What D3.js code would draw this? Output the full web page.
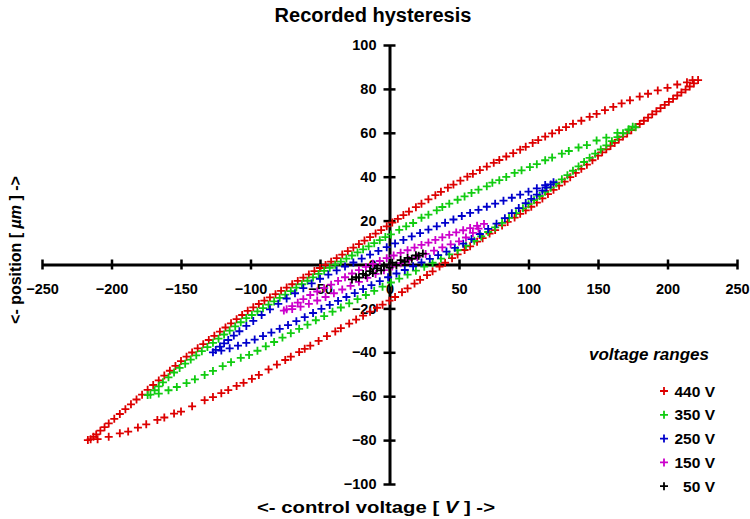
<!DOCTYPE html>
<html lang="en">
<head>
<meta charset="UTF-8">
<title>Recorded hysteresis</title>
<style>
  body { margin: 0; background: #fff; }
  svg text { font-family: "Liberation Sans", Arial, sans-serif; font-weight: bold; fill: #000; }
</style>
</head>
<body>
<div id="chart"></div>
<script src="https://d3js.org/d3.v7.min.js"></script>
<script>
// tick values
const xTicks = [-250, -200, -150, -100, -50, 0, 50, 100, 150, 200, 250];
const yTicks = [-100, -80, -60, -40, -20, 0, 20, 40, 60, 80, 100];

// series names and colours
const seriesNames = ["440 V", "350 V", "250 V", "150 V", "50 V"];
const seriesColors = ["#dd0000", "#11cc11", "#0000cc", "#cc00cc", "#000000"];

// recorded points [control voltage V, position um]
const loop440 = [
  [222,84],[218,84],[214,83],[207,82],[200,80.5],[193,79.3],[186,77.8],[180,76.5],[173,74.8],[167,73.4],
  [161,71.8],[155,70.3],[149,68.6],[144,67.3],[138,65.5],[132,64.1],[127,62.6],[122,61.2],[117,59.7],[112,58.3],
  [107,56.7],[103,55.4],[98,53.6],[94,52.3],[89,50.7],[84,49.2],[79,47.6],[75,46.3],[70,44.6],[65,43],
  [60,41.3],[56,40],[51,38.2],[46,36.4],[42,35],[37,33.1],[33,31.6],[28,29.7],[23,27.7],[19,26.1],
  [14,24.1],[10,22.5],[6,20.8],[2,19.1],[-2,17.4],[-6,15.7],[-10,14.1],[-14,12.5],[-18,10.9],[-22,9.3],
  [-26,7.7],[-30,6.1],[-34,4.5],[-38,2.9],[-42,1.3],[-46,-0.2],[-50,-1.6],[-54,-3],[-58,-4.5],[-62,-6],
  [-66,-7.5],[-70,-9],[-74,-10.5],[-78,-12],[-82,-13.5],[-86,-15],[-90,-16.5],[-94,-18],[-98,-19.5],[-102,-21.1],
  [-106,-23],[-110,-24.9],[-114,-26.8],[-118,-28.7],[-122,-30.6],[-126,-32.5],[-130,-34.4],[-134,-36.3],[-138,-38.2],[-142,-40.1],
  [-146,-42],[-150,-44],[-154,-46.2],[-158,-48.4],[-162,-50.6],[-166,-52.8],[-170,-54.9],[-174,-57.1],[-178,-59.3],[-182,-61.5],
  [-186,-63.7],[-190,-65.9],[-194,-68.1],[-198,-70.3],[-202,-72.4],[-205,-74.1],[-208,-75.7],[-211,-77.4],[-213,-78.5],[-215,-79.6],
  [-217,-80],
  [-210,-79.6],[-202,-78.5],[-194,-76.9],[-188,-76.1],[-181,-74.3],[-175,-72.8],[-167,-70.8],[-162,-69.7],[-155,-67.9],[-150,-67],
  [-142,-64.6],[-133,-61.8],[-127,-60.4],[-121,-58.6],[-116,-57.2],[-110,-55.3],[-105,-53.9],[-99,-52.1],[-94,-50.3],[-87,-47.8],
  [-81,-45.6],[-75,-43.5],[-71,-42],[-65,-39.9],[-61,-38.4],[-57,-37],[-51,-34.8],[-45,-32.6],[-39,-30.5],[-35,-29],
  [-29,-26.9],[-24,-25.1],[-19,-23.3],[-14,-21.5],[-9,-19.7],[-5,-18.3],[0,-16.5],[4,-14.8],[9,-12.6],[13,-10.9],
  [18,-8.7],[22,-7],[27,-4.8],[31,-3.1],[36,-0.9],[40,0.8],[45,2.9],[49,4.6],[54,6.6],[58,8.3],
  [63,10.4],[67,12],[72,14.1],[76,15.7],[81,17.8],[85,19.4],[90,21.4],[94,23.1],[98,24.7],[102,26.3],
  [106,28.2],[110,30.1],[114,32.1],[118,34],[122,35.9],[126,37.8],[130,39.8],[134,41.7],[138,43.6],[142,45.5],
  [146,47.5],[150,49.6],[153,51.1],[156,52.5],[159,54],[162,55.4],[165,56.9],[168,58.3],[171,59.7],[174,61.2],
  [177,62.6],[180,64],[183,65.5],[186,66.9],[189,68.4],[192,69.8],[195,71.2],[198,72.7],[201,74.1],[204,75.5],
  [207,77],[210,78.4],[213,79.7],[216,81.1],[219,82.5]
];

const loop350 = [
  [177,62.5],[172,61.3],[164,60],[156,57.8],[149,56.5],[142,54.4],[136,53.3],[129,51.7],[124,50.5],[117,48.7],
  [112,47.5],[106,45.7],[101,44.4],[95,42.9],[90,41.7],[84,39.9],[79,38.4],[74,37.3],[70,35.6],[64,34.1],
  [59,32.6],[54,31],[49,29.5],[43,27.7],[38,26.2],[34,24.7],[28,22.7],[23,21.3],[17,18.9],[12,17.4],
  [7,15.8],[1,13.7],[-3,12.5],[-7,11.1],[-11,9.7],[-15,8.3],[-19,6.9],[-23,5.5],[-27,4.1],[-31,2.7],
  [-35,1.3],[-39,-0.1],[-43,-1.5],[-47,-2.9],[-51,-4.3],[-55,-5.9],[-59,-7.4],[-63,-9],[-67,-10.5],[-71,-12.1],
  [-75,-13.7],[-79,-15.2],[-83,-16.8],[-87,-18.3],[-91,-19.9],[-95,-21.4],[-99,-23],[-103,-24.4],[-107,-26.3],[-111,-28.2],
  [-115,-30.1],[-119,-31.9],[-123,-33.8],[-127,-35.7],[-131,-37.6],[-135,-39.5],[-139,-41.4],[-143,-43.3],[-147,-45.2],[-151,-47.1],
  [-155,-49.2],[-159,-51.4],[-163,-53.7],[-166,-55.5],[-169,-57.3],[-172,-59.3],[-174,-59.5],
  [-166,-58.8],[-159,-57.3],[-153,-55.8],[-146,-54],[-140,-52.3],[-133,-50.3],[-127,-48.5],[-120,-46.3],[-114,-44.5],[-107,-42.5],
  [-101,-41.2],[-95,-39.3],[-89,-37.3],[-83,-35.3],[-77,-33.3],[-71,-31.3],[-65,-29.3],[-59,-27.4],[-53,-25.4],[-47,-23.5],
  [-41,-21.5],[-35,-19.6],[-29,-17.7],[-23,-15.8],[-17,-13.9],[-11,-12],[-5,-10.1],[1,-8.2],[7,-6.4],[13,-4.6],
  [19,-2.8],[25,-1],[31,0.8],[37,2.7],[43,4.6],[49,6.5],[55,8.6],[61,10.8],[66,12.8],[71,14.8],
  [76,16.9],[81,19],[86,21.2],[91,23.4],[96,25.6],[100,27.5],[104,29.3],[108,31.2],[112,33.1],[116,35],
  [120,36.9],[124,38.8],[128,40.7],[132,42.7],[136,44.7],[140,46.7],[144,48.6],[148,50.5],[152,52.4],[156,54.3],
  [160,56.2],[164,58],[168,59.8],[172,61.6],[175,62.8]
];

const loop250 = [
  [118,37.5],[112,36.2],[106,34.7],[100,33.2],[94,31.8],[88,30.4],[82,29.1],[76,27.7],[70,26.3],[64,24.9],
  [58,23.5],[52,22.1],[46,20.5],[40,19],[34,17.4],[28,15.9],[22,14.3],[16,12.8],[10,11.2],[4,9.6],
  [-2,7.9],[-8,6.2],[-14,4.5],[-20,2.7],[-26,0.9],[-32,-0.9],[-38,-2.7],[-44,-4.6],[-50,-6.5],[-56,-8.6],
  [-62,-10.8],[-68,-13.1],[-74,-15.5],[-80,-17.9],[-86,-20.4],[-92,-23],[-98,-25.7],[-103,-28],[-108,-30.4],[-112,-32.4],
  [-116,-34.4],[-119,-35.9],[-122,-37.4],[-125,-38.9],[-127,-40],
  [-121,-39.2],[-115,-38.2],[-109,-37],[-103,-35.7],[-97,-34.2],[-91,-32.6],[-85,-31],[-79,-29.3],[-73,-27.6],[-67,-25.8],
  [-61,-24],[-55,-22.1],[-49,-20.2],[-43,-18.4],[-37,-16.6],[-31,-14.8],[-25,-13],[-19,-11.2],[-13,-9.4],[-7,-7.6],
  [-1,-5.8],[5,-4.1],[11,-2.5],[17,-0.8],[23,0.9],[29,2.6],[35,4.3],[41,5.9],[47,7.6],[53,9.5],
  [59,11.6],[65,13.9],[71,16.2],[77,18.6],[83,21.1],[88,23.4],[93,25.7],[98,28],[102,29.9],[106,31.8],
  [110,33.7],[113,35.1],[116,36.5]
];

const loop150 = [
  [68,18.5],[63,17.6],[58,16.6],[53,15.6],[48,14.6],[43,13.5],[38,12.4],[33,11.2],[28,10],[23,8.9],
  [18,7.7],[13,6.5],[8,5.3],[3,4.1],[-2,2.9],[-7,1.6],[-12,0.3],[-17,-1.1],[-22,-2.6],[-27,-4.1],
  [-32,-5.8],[-37,-7.5],[-42,-9.2],[-47,-10.8],[-52,-12.3],[-57,-13.9],[-62,-15.8],[-66,-17.4],[-70,-19],[-74,-20.4],
  [-76,-21],
  [-70,-20.3],[-64,-19.2],[-58,-17.9],[-52,-16.4],[-46,-14.8],[-40,-13.1],[-34,-11.4],[-28,-9.7],[-22,-7.9],[-16,-6.1],
  [-10,-4.3],[-4,-2.6],[2,-0.9],[8,0.6],[14,2],[20,3.4],[26,4.8],[32,6.3],[38,7.8],[44,9.2],
  [50,10.5],[55,12.3],[60,14.4],[64,16.3]
];

const loop50 = [
  [24,5],[19,4.2],[13,3],[8,2],[2,0.8],[-4,-0.6],[-9,-1.8],[-14,-3],[-19,-4.3],[-24,-5.8],[-27,-6.8],
  [-22,-6],[-17,-4.9],[-12,-3.9],[-6,-2.7],[0,-1.4],[5,-0.3],[11,1.2],[16,2.6],[21,4]
];

const loops = [loop440, loop350, loop250, loop150, loop50];

const W = 750, H = 519;
const svg = d3.select("#chart").append("svg")
  .attr("width", W).attr("height", H);

const x = d3.scaleLinear().domain([-250, 250]).range([42, 737]);
const y = d3.scaleLinear().domain([-100, 100]).range([484, 45]);

// title
svg.append("text")
  .attr("x", 373).attr("y", 22)
  .attr("text-anchor", "middle")
  .style("font-size", "20px")
  .text("Recorded hysteresis");

// x axis through the origin
const gx = svg.append("g")
  .attr("transform", `translate(0,${y(0)})`)
  .call(d3.axisBottom(x).tickValues(xTicks).tickSizeOuter(0).tickSizeInner(5).tickFormat(d3.format("d")));
gx.select(".domain").attr("stroke-width", 3);
gx.selectAll(".tick line").attr("y1", -5).attr("y2", 5).attr("stroke-width", 2.5);
gx.selectAll(".tick text").attr("y", 19).style("font-size", "14.5px");

// y axis through the origin
const gy = svg.append("g")
  .attr("transform", `translate(${x(0)},0)`)
  .call(d3.axisLeft(y).tickValues(yTicks).tickSizeOuter(0).tickSizeInner(6).tickFormat(d3.format("d")));
gy.select(".domain").attr("stroke-width", 3);
gy.selectAll(".tick line").attr("x1", -6).attr("x2", 6).attr("stroke-width", 2.5);
gy.selectAll(".tick text").attr("x", -13).style("font-size", "14.5px");

svg.selectAll(".tick text").style("font-family", "'Liberation Sans', Arial, sans-serif").style("font-weight", "bold");

// point markers (plus signs)
const cross = "M-4,0H4M0,-4V4";
loops.forEach((pts, i) => {
  svg.append("g")
    .selectAll("path")
    .data(pts)
    .join("path")
    .attr("d", cross)
    .attr("transform", d => `translate(${x(d[0])},${y(d[1])})`)
    .attr("fill", "none")
    .attr("stroke", seriesColors[i])
    .attr("stroke-width", 1.8);
});

// axis titles
const xt = svg.append("text")
  .attr("x", 376).attr("y", 513)
  .attr("text-anchor", "middle")
  .attr("textLength", 238)
  .attr("lengthAdjust", "spacingAndGlyphs")
  .style("font-size", "16px");
xt.append("tspan").text("<- control voltage [ ");
xt.append("tspan").style("font-style", "italic").text("V");
xt.append("tspan").text(" ] ->");

const yt = svg.append("text")
  .attr("transform", "translate(21,250) rotate(-90)")
  .attr("text-anchor", "middle")
  .style("font-size", "16px");
yt.append("tspan").text("<- position [ ");
yt.append("tspan").style("font-style", "italic").text("\u00b5m");
yt.append("tspan").text(" ] ->");

// legend
svg.append("text")
  .attr("x", 589).attr("y", 360)
  .style("font-size", "17px").style("font-style", "italic")
  .text("voltage ranges");

const lg = svg.append("g").selectAll("g")
  .data(seriesNames)
  .join("g")
  .attr("transform", (d, i) => `translate(0,${391 + i * 23.8})`);
lg.append("path")
  .attr("d", cross)
  .attr("transform", "translate(664,0)")
  .attr("fill", "none")
  .attr("stroke", (d, i) => seriesColors[i])
  .attr("stroke-width", 1.8);
lg.append("text")
  .attr("x", 715).attr("y", 5.5)
  .attr("text-anchor", "end")
  .style("font-size", "15.5px")
  .text(d => d);
</script>
</body>
</html>
